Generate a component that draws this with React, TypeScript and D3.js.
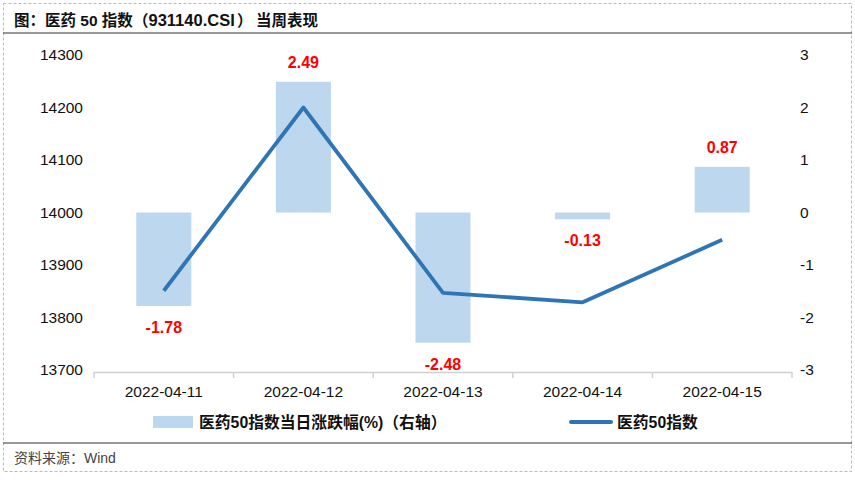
import React from "react";
import * as d3 from "d3";

const categories = ["2022-04-11", "2022-04-12", "2022-04-13", "2022-04-14", "2022-04-15"];
const changePct = [-1.78, 2.49, -2.48, -0.13, 0.87];
const indexValues = [13851, 14200, 13847, 13829, 13948];
const leftTicks = [13700, 13800, 13900, 14000, 14100, 14200, 14300];
const rightTicks = [-3, -2, -1, 0, 1, 2, 3];

const W = 855, H = 480;
const font = "'Liberation Sans', Arial, 'Noto Sans CJK SC', sans-serif";

export default function App() {
  const x = d3.scaleBand().domain(categories).range([94, 792]).padding(0);
  const yL = d3.scaleLinear().domain([13700, 14300]).range([370, 55]);
  const yR = d3.scaleLinear().domain([-3, 3]).range([370, 55]);
  const barW = 55;
  const line = d3.line<number>()
    .x((_, i) => (x(categories[i]) as number) + x.bandwidth() / 2)
    .y((d) => yL(d));

  return (
    <svg width={W} height={H} style={{ position: "absolute", left: 0, top: 0, fontFamily: font }}>
      <rect x={0} y={0} width={W} height={H} fill="#fff" />
      <rect x={3.5} y={3.5} width={848} height={468} fill="none" stroke="#bbb" strokeDasharray="3,2" />
      <text y={26} fontSize={15.5} fontWeight="bold" fill="#111">
        <tspan x={14}>图：医药 50 指数</tspan>
        <tspan x={133}>（</tspan>
        <tspan x={148.5} fontSize={16.5}>931140.CSI</tspan>
        <tspan x={237}>）</tspan>
        <tspan x={256}>当周表现</tspan>
      </text>
      <line x1={3} x2={852} y1={33} y2={33} stroke="#333" strokeWidth={1.2} />

      {/* bars */}
      {changePct.map((v, i) => {
        const cx = (x(categories[i]) as number) + x.bandwidth() / 2;
        const y0 = yR(0), y1 = yR(v);
        return (
          <rect key={i} x={cx - barW / 2} width={barW} y={Math.min(y0, y1)} height={Math.abs(y1 - y0)} fill="#BDD7EE" />
        );
      })}
      {/* x axis */}
      <line x1={94} x2={792} y1={372.5} y2={372.5} stroke="#d0d0d0" strokeWidth={1.5} />
      {[...categories.map((c) => x(c) as number), 792].map((t, i) => (
        <line key={i} x1={t} x2={t} y1={372} y2={378} stroke="#d0d0d0" strokeWidth={1.5} />
      ))}
      {categories.map((c) => (
        <text key={c} x={(x(c) as number) + x.bandwidth() / 2} y={397} textAnchor="middle" fontSize={15.5} fill="#111">{c}</text>
      ))}
      {/* line */}
      <path d={line(indexValues) as string} fill="none" stroke="#2E75B6" strokeWidth={3.8} strokeLinejoin="round" />
      {/* labels */}
      {changePct.map((v, i) => {
        const cx = (x(categories[i]) as number) + x.bandwidth() / 2;
        const y = v >= 0 ? yR(v) - 14 : yR(v) + 27;
        return (
          <text key={i} x={cx} y={y} textAnchor="middle" fontSize={16} fontWeight="bold" fill="#FF0000">{v.toFixed(2)}</text>
        );
      })}
      {/* left axis */}
      {leftTicks.map((t) => (
        <text key={t} x={83} y={yL(t) + 5} textAnchor="end" fontSize={15.5} fill="#111">{t}</text>
      ))}
      {/* right axis */}
      {rightTicks.map((t) => (
        <text key={t} x={800} y={yR(t) + 5} textAnchor="start" fontSize={15.5} fill="#111">{t}</text>
      ))}
      {/* legend */}
      <rect x={153} y={416} width={40} height={12} fill="#BDD7EE" />
      <text x={199} y={428} fontSize={15.8} fontWeight="bold" fill="#111">医药50指数当日涨跌幅(%)（右轴）</text>
      <line x1={571} x2={611} y1={422} y2={422} stroke="#2E75B6" strokeWidth={4} strokeLinecap="round" />
      <text x={617} y={428} fontSize={15.8} fontWeight="bold" fill="#111">医药50指数</text>

      <line x1={3} x2={852} y1={443} y2={443} stroke="#333" strokeWidth={1.2} />
      <text x={14} y={463} fontSize={14} fill="#444">资料来源：Wind</text>
    </svg>
  );
}
